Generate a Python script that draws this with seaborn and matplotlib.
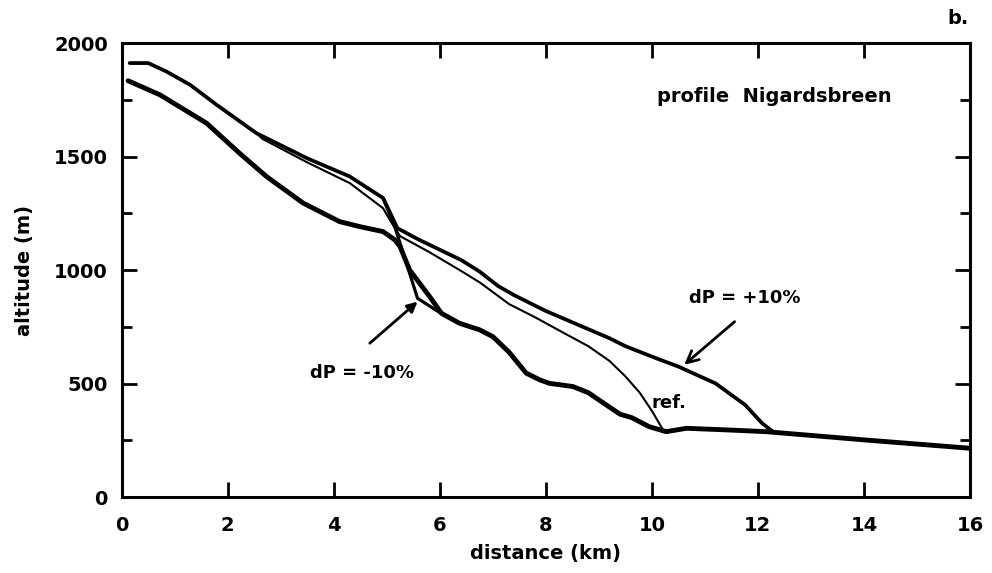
import matplotlib
matplotlib.use("Agg")
import matplotlib.pyplot as plt
import seaborn as sns
import pandas as pd
from matplotlib.ticker import MultipleLocator

# ---- data (km, m) ----
plus_x = [0.15, 0.5, 0.84, 1.29, 1.79, 2.54, 3.49, 4.30, 4.93, 5.2, 5.6, 6.0, 6.4, 6.75,
          7.1, 7.4, 8.0, 8.6, 9.2, 9.5, 10.1, 10.5, 11.2, 11.76, 12.08, 12.3]
plus_y = [1913, 1913, 1876, 1817, 1729, 1604, 1494, 1413, 1318, 1185, 1135, 1090, 1045, 994,
          930, 890, 820, 760, 700, 665, 610, 575, 501, 406, 325, 285]

ref_x = [0.15, 0.5, 0.84, 1.29, 1.79, 2.54, 2.66, 3.5, 4.30, 4.93, 5.1, 5.25, 5.8, 6.37, 6.76,
         7.31, 7.8, 8.3, 8.8, 9.2, 9.5, 9.77, 10.0, 10.2]
ref_y = [1913, 1913, 1876, 1817, 1729, 1604, 1578, 1475, 1384, 1273, 1205, 1150, 1080, 1001, 945,
         850, 792, 728, 665, 600, 532, 460, 380, 300]

minus_x = [4.93, 5.16, 5.58, 6.02]
minus_y = [1318, 1185, 876, 810]

bed_x = [0.12, 0.72, 1.6, 2.22, 2.73, 3.42, 4.11, 4.49, 4.93, 5.15, 5.25, 5.43, 5.81, 6.03,
         6.37, 6.75, 7.0, 7.3, 7.63, 7.89, 8.07, 8.51, 8.8, 9.19, 9.4, 9.62, 9.95, 10.27,
         10.65, 11.5, 12.16, 14.05, 16.0]
bed_y = [1835, 1773, 1648, 1516, 1413, 1296, 1214, 1192, 1170, 1134, 1104, 1001, 883, 810,
         766, 737, 707, 640, 546, 516, 501, 487, 460, 398, 365, 350, 310, 288,
         303, 295, 288, 251, 215]

xticks = [0, 2, 4, 6, 8, 10, 12, 14, 16]
yticks = [0, 500, 1000, 1500, 2000]

sns.set_theme(style="ticks")
plt.rcParams["font.family"] = ["DejaVu Sans"]
plt.rcParams["font.weight"] = "bold"
plt.rcParams["axes.labelweight"] = "bold"
plt.rcParams["text.color"] = "black"
plt.rcParams["axes.labelcolor"] = "black"
plt.rcParams["xtick.color"] = "black"
plt.rcParams["ytick.color"] = "black"

fig = plt.figure(figsize=(9.92, 5.73), dpi=100)
ax = fig.add_axes([0.1227, 0.1326, 0.8551, 0.7918])

kw = dict(sort=False, estimator=None, color="black", ax=ax, legend=False)
sns.lineplot(data=pd.DataFrame({"x": ref_x, "y": ref_y}), x="x", y="y", lw=1.5, **kw)
sns.lineplot(data=pd.DataFrame({"x": plus_x, "y": plus_y}), x="x", y="y", lw=2.7, **kw)
sns.lineplot(data=pd.DataFrame({"x": minus_x, "y": minus_y}), x="x", y="y", lw=2.3, **kw)
sns.lineplot(data=pd.DataFrame({"x": bed_x, "y": bed_y}), x="x", y="y", lw=3.5, **kw)

ax.set_xlim(0, 16)
ax.set_ylim(0, 2000)
ax.set_xticks(xticks)
ax.set_xticklabels([str(v) for v in xticks])
ax.set_yticks(yticks)
ax.set_yticklabels([str(v) for v in yticks])
ax.yaxis.set_minor_locator(MultipleLocator(250))
ax.tick_params(axis="both", which="major", direction="in", top=True, right=True,
               length=11, width=2, labelsize=14, colors="black")
ax.tick_params(axis="x", which="major", pad=14)
ax.tick_params(axis="y", which="major", pad=10)
ax.tick_params(axis="y", which="minor", direction="in", right=True, length=7, width=2,
               colors="black")
for s in ax.spines.values():
    s.set_linewidth(2.2)
    s.set_color("black")

ax.set_xlabel("distance (km)", fontsize=14, fontweight="bold", labelpad=6, color="black")
ax.set_ylabel("altitude (m)", fontsize=14, fontweight="bold", labelpad=14, color="black")

ax.text(12.3, 1766, "profile  Nigardsbreen", fontsize=14, fontweight="bold",
        ha="center", va="center", color="black")
ax.text(4.54, 546, "dP = -10%", fontsize=13, fontweight="bold", ha="center", va="center",
        color="black")
ax.text(11.76, 877, "dP = +10%", fontsize=13, fontweight="bold", ha="center", va="center",
        color="black")
ax.text(10.0, 414, "ref.", fontsize=13, fontweight="bold", ha="left", va="center",
        color="black")

ax.annotate("", xy=(5.62, 869), xytext=(4.64, 670),
            arrowprops=dict(arrowstyle="-|>,head_length=0.5,head_width=0.25",
                            color="black", lw=2))
ax.annotate("", xy=(10.57, 575), xytext=(11.6, 781),
            arrowprops=dict(arrowstyle="->,head_length=0.7,head_width=0.35",
                            color="black", lw=2))

fig.text(958 / 992, 1 - 18 / 573, "b.", fontsize=14, fontweight="bold",
         ha="center", va="center", color="black")

fig.savefig("out.png", dpi=100, facecolor="white")
